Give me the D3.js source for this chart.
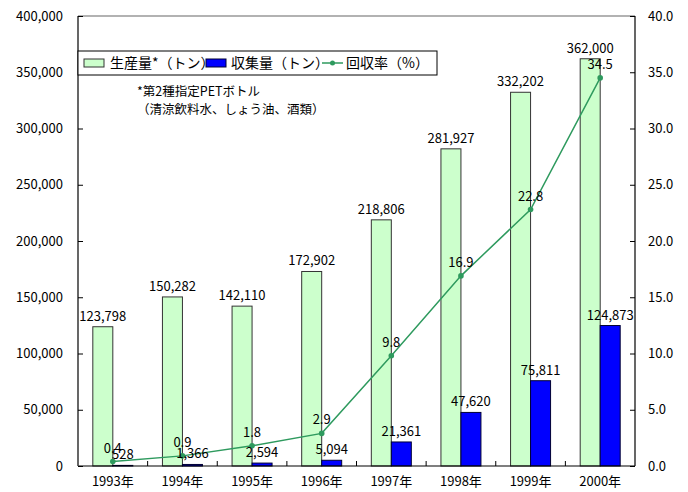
<!DOCTYPE html>
<html>
<head>
<meta charset="utf-8">
<script src="https://cdn.jsdelivr.net/npm/d3@7"></script>
<style>
  html, body { margin: 0; padding: 0; background: #fff; }
  svg { display: block; font-family: "Noto Sans CJK JP", "Liberation Sans", sans-serif; }
</style>
</head>
<body>
<div id="chart"></div>
<script>
// PET bottle production, collection and collection rate, 1993-2000
const years = ["1993年", "1994年", "1995年", "1996年", "1997年", "1998年", "1999年", "2000年"];
const production = [123798, 150282, 142110, 172902, 218806, 281927, 332202, 362000];
const collection = [528, 1366, 2594, 5094, 21361, 47620, 75811, 124873];
const rate = [0.4, 0.9, 1.8, 2.9, 9.8, 16.9, 22.8, 34.5];
const leftTicks = [0, 50000, 100000, 150000, 200000, 250000, 300000, 350000, 400000];
const rightTicks = [0, 5, 10, 15, 20, 25, 30, 35, 40];

const W = 688, H = 492;
const m = { left: 78, right: 53, top: 16, bottom: 26 };
const iw = W - m.left - m.right, ih = H - m.top - m.bottom;

const svg = d3.select("#chart").append("svg").attr("width", W).attr("height", H);
const g = svg.append("g").attr("transform", `translate(${m.left},${m.top})`);

const x = d3.scaleBand().domain(years).range([0, iw]).padding(0);
const yL = d3.scaleLinear().domain([0, 400000]).range([ih, 0]);
const yR = d3.scaleLinear().domain([0, 40]).range([ih, 0]);
const barW = 20;

const fmt = d3.format(",");
const fontSize = 13;

// top frame line
g.append("line").attr("x1", 0).attr("x2", iw).attr("y1", 0).attr("y2", 0)
  .attr("stroke", "#999").attr("stroke-width", 1.5);

// production bars
g.selectAll(".prod").data(production).join("rect")
  .attr("x", (d, i) => x(years[i]) + x.bandwidth() / 2 - barW)
  .attr("y", d => yL(d))
  .attr("width", barW).attr("height", d => ih - yL(d))
  .attr("fill", "#ccffcc").attr("stroke", "#333").attr("stroke-width", 1);

// collection bars
g.selectAll(".coll").data(collection).join("rect")
  .attr("x", (d, i) => x(years[i]) + x.bandwidth() / 2)
  .attr("y", d => yL(d))
  .attr("width", barW).attr("height", d => ih - yL(d))
  .attr("fill", "#0000ff").attr("stroke", "#000033").attr("stroke-width", 1);

// collection rate line
const line = d3.line()
  .x((d, i) => x(years[i]) + x.bandwidth() / 2)
  .y(d => yR(d));
g.append("path").datum(rate).attr("d", line)
  .attr("fill", "none").attr("stroke", "#2e9a5e").attr("stroke-width", 1.5);
g.selectAll(".pt").data(rate).join("circle")
  .attr("cx", (d, i) => x(years[i]) + x.bandwidth() / 2)
  .attr("cy", d => yR(d)).attr("r", 2.8).attr("fill", "#2e9a5e");

// value labels
g.selectAll(".plab").data(production).join("text")
  .attr("x", (d, i) => x(years[i]) + x.bandwidth() / 2 - barW / 2)
  .attr("y", d => yL(d) - 6)
  .attr("text-anchor", "middle").attr("font-size", fontSize).attr("fill", "#000")
  .text(d => fmt(d));
g.selectAll(".clab").data(collection).join("text")
  .attr("x", (d, i) => x(years[i]) + x.bandwidth() / 2 + barW / 2)
  .attr("y", d => yL(d) - 6)
  .attr("text-anchor", "middle").attr("font-size", fontSize).attr("fill", "#000")
  .text(d => fmt(d));
g.selectAll(".rlab").data(rate).join("text")
  .attr("x", (d, i) => x(years[i]) + x.bandwidth() / 2)
  .attr("y", d => yR(d) - 9)
  .attr("text-anchor", "middle").attr("font-size", fontSize).attr("fill", "#000")
  .text(d => d.toFixed(1));

// axes
const axL = g.append("g").call(d3.axisLeft(yL).tickValues(leftTicks).tickSize(-5).tickPadding(15).tickFormat(fmt));
const axR = g.append("g").attr("transform", `translate(${iw},0)`)
  .call(d3.axisRight(yR).tickValues(rightTicks).tickSize(-5).tickPadding(13).tickFormat(d3.format(".1f")));
const axB = g.append("g").attr("transform", `translate(0,${ih})`)
  .call(d3.axisBottom(x).tickSize(0).tickPadding(11));
// category boundary ticks on the bottom axis
g.selectAll(".bt").data(d3.range(1, years.length)).join("line")
  .attr("x1", i => i * x.step()).attr("x2", i => i * x.step())
  .attr("y1", ih).attr("y2", ih - 5).attr("stroke", "#000");

[axL, axR, axB].forEach(a => {
  a.selectAll("path").attr("stroke", "#000").attr("stroke-width", 1.2);
  a.selectAll("line").attr("stroke", "#000");
  a.selectAll("text").attr("font-size", fontSize).attr("fill", "#000")
    .attr("font-family", "'Noto Sans CJK JP', sans-serif");
});
axB.select("path").attr("d", `M0.5,0H${iw}`);
axL.select("path").attr("d", `M0,${ih}V0`);
axR.select("path").attr("d", `M0,${ih}V0`);

// legend
const lg = svg.append("g").attr("transform", "translate(78,51)");
lg.append("rect").attr("width", 359).attr("height", 24)
  .attr("fill", "#fff").attr("stroke", "#000").attr("stroke-width", 1);
const ly = 12;
lg.append("rect").attr("x", 6).attr("y", ly - 4).attr("width", 20).attr("height", 8)
  .attr("fill", "#ccffcc").attr("stroke", "#333");
lg.append("text").attr("x", 32).attr("y", ly + 5).attr("font-size", 14).text("生産量*（トン）");
lg.append("rect").attr("x", 128).attr("y", ly - 4).attr("width", 20).attr("height", 8)
  .attr("fill", "#0000ff").attr("stroke", "#000033");
lg.append("text").attr("x", 153).attr("y", ly + 5).attr("font-size", 14).text("収集量（トン）");
lg.append("line").attr("x1", 244).attr("x2", 265).attr("y1", ly).attr("y2", ly)
  .attr("stroke", "#2e9a5e").attr("stroke-width", 1.5);
lg.append("circle").attr("cx", 254.5).attr("cy", ly).attr("r", 2.5).attr("fill", "#2e9a5e");
lg.append("text").attr("x", 268).attr("y", ly + 5).attr("font-size", 14).text("回収率（%）");

// note
svg.append("text").attr("x", 137).attr("y", 96).attr("font-size", 12.5).text("*第2種指定PETボトル");
svg.append("text").attr("x", 137).attr("y", 114).attr("font-size", 12.5).text("（清涼飲料水、しょう油、酒類）");
</script>
</body>
</html>
